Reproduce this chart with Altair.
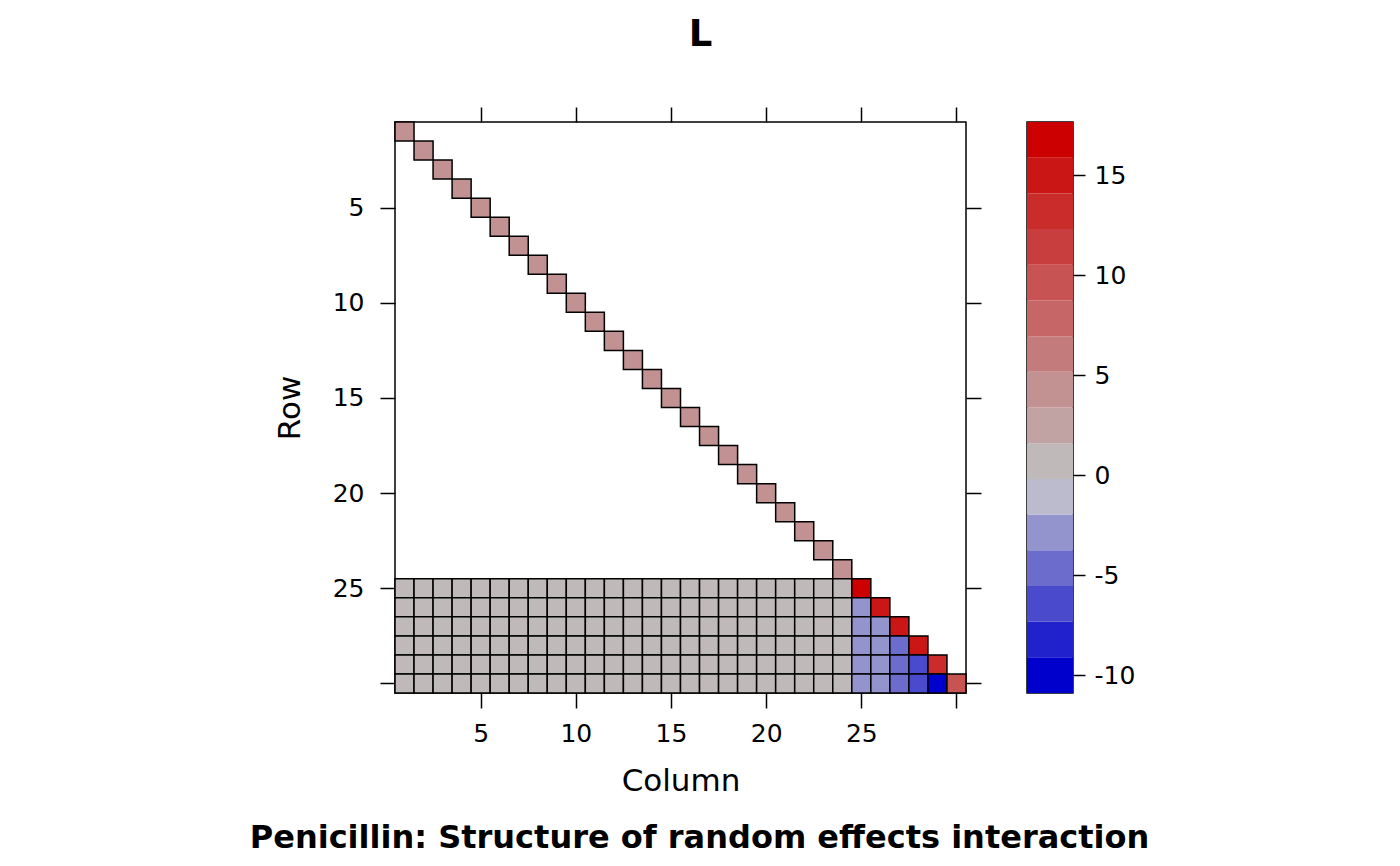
import altair as alt
import numpy as np
import pandas as pd

# ---- values (L factor, Penicillin) ----
n_plates = 24
sample_rows = [25, 26, 27, 28, 29, 30]
plate_diag = [3.90] * n_plates                 # rows/cols 1..24 diagonal
plate_cross = [1.39] * len(sample_rows)        # rows 25..30, cols 1..24
sample_diag = [16.72, 15.40, 15.00, 14.30, 13.00, 9.60]   # (25,25)..(30,30)
sample_offdiag = [-3.00, -3.60, -4.60, -6.20, -9.97]      # below-diagonal, cols 25..29

tick_values = [5, 10, 15, 20, 25, 30]
key_ticks = [-10, -5, 0, 5, 10, 15]
key_range = [-10.9, 17.65]
key_colors = ["#0000CD", "#2222CD", "#4A4ACD", "#6C6CCD", "#9393CD", "#BBBBCD",
              "#BFB9B9", "#C1A3A3", "#C29191", "#C47B7B", "#C66666", "#C75353",
              "#C83E3E", "#CA2B2B", "#CB1616", "#CD0000"]

# ---- build cells ----
rows, cols, vals = [], [], []
for i, v in enumerate(plate_diag):
    rows.append(i + 1); cols.append(i + 1); vals.append(v)
for r, v in zip(sample_rows, plate_cross):
    for c in range(1, n_plates + 1):
        rows.append(r); cols.append(c); vals.append(v)
for k, (r, v) in enumerate(zip(sample_rows, sample_diag)):
    rows.append(r); cols.append(r); vals.append(v)
    if k < len(sample_offdiag):
        for r2 in sample_rows[k + 1:]:
            rows.append(r2); cols.append(r); vals.append(sample_offdiag[k])
cells = pd.DataFrame({"row": rows, "col": cols, "value": vals})

breaks = np.linspace(key_range[0], key_range[1], len(key_colors) + 1)
bins = pd.DataFrame({"lo": breaks[:-1], "hi": breaks[1:]})
bins["mid"] = (bins["lo"] + bins["hi"]) / 2

color_scale = alt.Scale(type="threshold", domain=list(breaks[1:-1]), range=key_colors)

FONT = "DejaVu Sans"
TICK = 15

x_scale = alt.Scale(domain=[0.5, 30.5], nice=False, zero=False)
y_scale = alt.Scale(domain=[0.5, 30.5], nice=False, zero=False, reverse=True)

axis_common = dict(grid=False, domain=False, tickColor="black", tickWidth=1.5,
                   tickSize=TICK, labelColor="black", labelFont=FONT, labelFontSize=25,
                   values=tick_values, titleFont=FONT, titleFontSize=31,
                   titleFontWeight="normal", titleColor="black")

base = alt.Chart(cells).transform_calculate(
    x0="datum.col - 0.5", x1="datum.col + 0.5",
    y0="datum.row - 0.5", y1="datum.row + 0.5")

rects = base.mark_rect(stroke="black", strokeWidth=1.5).encode(
    x=alt.X("x0:Q", scale=x_scale,
            axis=alt.Axis(orient="bottom", title="Column", labelPadding=13,
                          titlePadding=20,
                          labelExpr="datum.value == 30 ? '' : datum.label",
                          **axis_common)),
    x2="x1:Q",
    y=alt.Y("y0:Q", scale=y_scale,
            axis=alt.Axis(orient="left", title="Row", labelPadding=16,
                          titlePadding=26,
                          labelExpr="datum.value == 30 ? '' : datum.label",
                          **axis_common)),
    y2="y1:Q",
    color=alt.Color("value:Q", scale=color_scale, legend=None),
)

ghost = base.mark_point(opacity=0).encode(
    x=alt.X("col:Q", scale=x_scale,
            axis=alt.Axis(orient="top", title=None, labels=False, **axis_common)),
    y=alt.Y("row:Q", scale=y_scale,
            axis=alt.Axis(orient="right", title=None, labels=False, **axis_common)),
)

heat = alt.layer(rects, ghost).resolve_axis(x="independent", y="independent").properties(
    width=571, height=571,
    title=alt.TitleParams("Penicillin: Structure of random effects interaction",
                          orient="bottom", anchor="middle", fontSize=32,
                          fontWeight="bold", font=FONT, color="black", offset=27, dx=19),
)

cbar = alt.Chart(bins).mark_rect().encode(
    x=alt.value(0), x2=alt.value(46),
    y=alt.Y("lo:Q", scale=alt.Scale(domain=key_range, nice=False, zero=False),
            axis=alt.Axis(orient="right", values=key_ticks, title=None, grid=False,
                          domain=False, tickColor="black", tickWidth=1.5, tickSize=12,
                          labelColor="black", labelFont=FONT, labelFontSize=25,
                          labelPadding=9,
                          labelExpr="replace(datum.label, '\u2212', '-')")),
    y2="hi:Q",
    color=alt.Color("mid:Q", scale=color_scale, legend=None),
).properties(width=46, height=571)

chart = alt.hconcat(heat, cbar, spacing=61, bounds="flush").properties(
    title=alt.TitleParams("L", anchor="middle", fontSize=37, fontWeight="bold",
                          font=FONT, color="black", offset=52, dx=1),
    padding={"left": 240, "top": 7, "right": 5, "bottom": 20},
).configure(font=FONT).configure_view(stroke="black", strokeWidth=1.5)

chart.save("out.html", embed_options={"renderer": "svg", "actions": False})
